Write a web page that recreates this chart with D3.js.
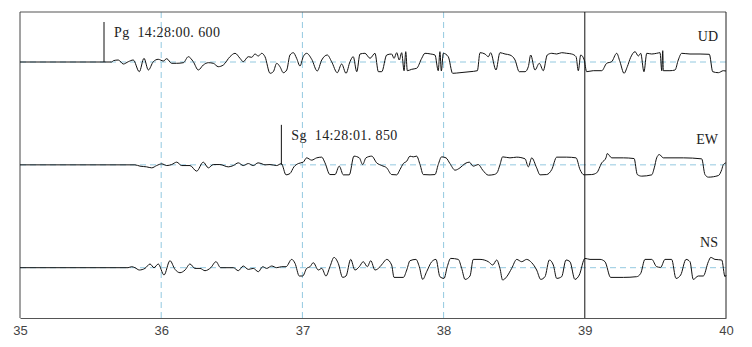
<!DOCTYPE html>
<html>
<head>
<meta charset="utf-8">
<script src="https://cdn.jsdelivr.net/npm/d3@7"></script>
<style>
  body { margin: 0; background: #fff; }
  .tick text { font-family: "Liberation Sans", Arial, sans-serif; font-size: 13px; fill: #444; }
  .lbl { font-family: "Liberation Serif", "DejaVu Serif", serif; font-size: 14px; fill: #222; }
  .pick { white-space: pre; letter-spacing: 0.4px; }
</style>
</head>
<body>
<div id="chart"></div>
<script>
// time axis (s) and channels
const xTicks = [35, 36, 37, 38, 39, 40];
const channels = ['UD', 'EW', 'NS'];
const gridTimes = [36, 37, 38];
const markTime = 39;

// phase picks
const picks = [
    { phase: 'Pg', channel: 'UD', time: 35.595, text: 'Pg  14:28:00. 600' },
    { phase: 'Sg', channel: 'EW', time: 36.851, text: 'Sg  14:28:01. 850' }
];

// traces: [time, amplitude]
const udTrace = [
    [35.000,0],[35.595,0],[35.649,0],[35.661,1.3],[35.696,2],[35.732,-2],[35.767,0.3],[35.802,2],
    [35.845,-9.7],[35.878,3.7],[35.909,-8],[35.944,0.3],[35.979,2.7],[36.015,1],[36.039,3.3],
    [36.074,-1.3],[36.110,-1.3],[36.157,-0.7],[36.192,5.3],[36.227,0.3],[36.263,-8],[36.298,-3],
    [36.334,-0.7],[36.369,-1.3],[36.404,-4.7],[36.440,-3],[36.487,5.3],[36.523,8.7],[36.558,3.7],
    [36.581,0.3],[36.617,5.3],[36.641,4.7],[36.664,8],[36.688,6],[36.712,8.7],[36.735,5.3],
    [36.771,-11.3],[36.794,-9.7],[36.818,-1.3],[36.841,-4.7],[36.865,-10.7],[36.889,-8],[36.912,7],
    [36.936,9.3],[36.959,3.7],[36.983,-4],[37.006,5.3],[37.030,8.7],[37.066,2.7],[37.105,-9],
    [37.137,2],[37.176,7],[37.207,0.3],[37.247,-10.7],[37.278,-2],[37.309,-11.3],[37.337,0.3],
    [37.360,5.3],[37.385,-9.7],[37.408,8],[37.443,8.7],[37.479,3.7],[37.514,8.7],[37.538,-9.7],
    [37.562,-9.7],[37.597,7],[37.632,8],[37.649,3.7],[37.668,9.3],[37.686,2],[37.703,9.3],
    [37.720,-8.7],[37.732,10.3],[37.743,-8.7],[37.774,-7.3],[37.809,-6.3],[37.845,3.7],[37.868,8.7],
    [37.909,8],[37.939,7],[37.962,-8.7],[37.974,10.3],[37.984,-9],[37.998,8.7],[38.033,5.3],
    [38.064,-11.3],[38.116,-10.7],[38.187,-9.7],[38.239,-8.7],[38.258,9.3],[38.293,8],[38.317,5.3],
    [38.333,9.3],[38.371,-8],[38.399,9.3],[38.435,8],[38.470,7],[38.506,2],[38.536,-9.7],
    [38.577,-9.7],[38.600,-4.7],[38.617,7],[38.647,-8],[38.678,-1.3],[38.706,-8.7],[38.734,7],
    [38.766,8.7],[38.801,8],[38.836,9.3],[38.872,8.7],[38.907,8],[38.938,5.3],[38.954,-8.7],
    [38.971,7],[38.996,2],[39.013,-9.7],[39.060,-8.7],[39.120,-8.7],[39.155,-1.3],[39.190,0.3],
    [39.226,8.7],[39.249,0.3],[39.278,-11.3],[39.301,-4.7],[39.325,4.7],[39.356,10.3],[39.379,6],
    [39.396,8.7],[39.419,-9.7],[39.439,8.7],[39.474,8],[39.509,8.7],[39.533,9.3],[39.545,-8.7],
    [39.552,11.3],[39.556,-8.7],[39.603,-8.7],[39.639,-8],[39.662,2],[39.686,8.7],[39.745,8],
    [39.816,8],[39.882,7.7],[39.906,-9.7],[39.946,-10.7],[39.981,-8.7],[40.000,-9]
];

const ewTrace = [
    [35.000,0],[35.814,0],[35.850,-1.3],[35.897,-2],[35.933,-3],[35.968,-0.7],[36.004,1],[36.039,-0.7],
    [36.074,0.3],[36.110,2.7],[36.145,-0.7],[36.204,-0.7],[36.251,-6.3],[36.298,2.7],[36.334,-3],
    [36.369,0.3],[36.416,0.3],[36.475,-2],[36.511,-0.7],[36.546,2],[36.581,-0.7],[36.617,1.3],
    [36.652,-0.7],[36.686,2],[36.714,1],[36.735,0],[36.771,0.3],[36.818,-0.7],[36.851,1.3],
    [36.884,-10],[36.912,-8.7],[36.940,-2],[36.971,1.3],[37.006,2.7],[37.030,7],[37.066,4.7],
    [37.101,7],[37.137,7.7],[37.160,2],[37.195,-9.7],[37.231,-9.7],[37.261,-1.3],[37.290,-10],
    [37.332,-10],[37.365,8.7],[37.403,7],[37.427,0.3],[37.450,7],[37.491,8.7],[37.526,2],
    [37.562,-0.7],[37.597,-3],[37.632,-9.7],[37.668,-10],[37.691,-4.7],[37.715,1.3],[37.739,3.7],
    [37.762,8.7],[37.785,8],[37.809,8.7],[37.833,0.3],[37.856,-9.7],[37.904,-10],[37.939,-9.7],
    [37.962,0.3],[37.986,8],[38.017,7],[38.045,1.3],[38.081,-5.3],[38.116,-3],[38.152,1.3],
    [38.182,2.7],[38.210,-1.3],[38.246,0.3],[38.277,-5.3],[38.317,-10.3],[38.357,-9.7],[38.378,-8],
    [38.399,0],[38.418,8],[38.470,7],[38.518,7.7],[38.577,6],[38.600,-2],[38.624,7],[38.659,-3],
    [38.683,-10],[38.730,-9.7],[38.766,-4.7],[38.801,7.7],[38.872,7.7],[38.938,7],[38.966,-4.7],
    [38.994,-10],[39.049,-9.7],[39.084,-8],[39.120,2],[39.150,7],[39.159,11.3],[39.191,7],
    [39.273,7],[39.349,6.3],[39.372,-9.7],[39.403,-11.3],[39.474,-10],[39.492,-3],[39.509,7],
    [39.528,10.3],[39.556,7],[39.698,7],[39.828,6],[39.851,-9.7],[39.875,-12.3],[39.946,-10.7],
    [39.970,-4.7],[39.981,0.3],[40.000,2]
];

const nsTrace = [
    [35.000,0],[35.765,0],[35.791,1],[35.814,0],[35.845,-2.3],[35.885,-0.7],[35.921,3.7],[35.949,0],
    [35.979,3.7],[36.020,-7.3],[36.062,7],[36.098,-1.7],[36.133,-5],[36.169,-2.3],[36.204,3.7],
    [36.239,-0.7],[36.275,-0.7],[36.310,-3],[36.351,0],[36.388,6],[36.421,0],[36.511,0],[36.546,-3],
    [36.581,1.7],[36.617,-1.7],[36.652,-0.7],[36.688,-4],[36.719,1],[36.747,-0.7],[36.783,1.7],
    [36.818,0],[36.853,1],[36.884,1],[36.924,8.3],[36.948,4.3],[36.978,-8.3],[37.002,-8.3],
    [37.030,-0.7],[37.054,1],[37.077,5],[37.113,-2.3],[37.137,-0.7],[37.167,-8.3],[37.195,1],
    [37.224,10.3],[37.254,4.3],[37.285,-9.7],[37.309,-8.3],[37.342,8.3],[37.372,-2.3],[37.403,1],
    [37.431,6],[37.460,1],[37.484,7],[37.514,-2.3],[37.550,1],[37.569,4.3],[37.597,8.3],[37.632,2.7],
    [37.649,-9.7],[37.715,-9.7],[37.739,-2.3],[37.762,7],[37.804,8.3],[37.828,1],[37.852,-11.7],
    [37.880,-4],[37.916,6],[37.946,8.3],[37.974,-9],[38.003,-10.7],[38.026,1],[38.050,9.3],
    [38.104,8.3],[38.128,-0.7],[38.152,-11.7],[38.187,-8.3],[38.210,8.3],[38.258,8.3],[38.317,6],
    [38.348,2.7],[38.376,7.7],[38.399,-0.7],[38.418,-12.3],[38.447,-9],[38.482,-0.7],[38.518,8.3],
    [38.553,6],[38.588,8.3],[38.624,5],[38.659,-2.3],[38.688,-11.7],[38.718,-9],[38.749,7.7],
    [38.777,2.7],[38.801,-10.7],[38.836,-9],[38.867,7.7],[38.895,6],[38.930,-11.7],[38.961,-7.3],
    [39.001,9.3],[39.037,8.3],[39.108,8.3],[39.143,6],[39.183,-9.7],[39.273,-9.7],[39.367,-9],
    [39.396,-5.7],[39.426,8.3],[39.474,8.3],[39.509,1],[39.537,0.3],[39.568,8.3],[39.615,8.3],
    [39.646,-10.7],[39.679,-7.3],[39.717,8.3],[39.745,6],[39.768,-11.7],[39.804,-8.3],[39.839,-8.3],
    [39.875,6],[39.892,10.3],[39.922,8.3],[39.970,7.7],[39.993,-9],[40.000,-7.3]
];

const traces = { UD: udTrace, EW: ewTrace, NS: nsTrace };

// Set up dimensions
const width = 752, height = 347;
const margin = { top: 12, right: 26, bottom: 29, left: 20 };

const svg = d3.select('#chart').append('svg')
    .attr('width', width)
    .attr('height', height);

const x = d3.scaleLinear()
    .domain([35, 40])
    .range([margin.left, width - margin.right]);

// one baseline per channel
const band = d3.scalePoint()
    .domain(channels)
    .range([62, 267.7]);

// amplitude -> pixel offset
const amp = d3.scaleLinear().domain([-10, 10]).range([10, -10]);

const yTop = margin.top, yBottom = height - margin.bottom;
const dashColor = '#93c9e0';

// dashed grid lines
svg.selectAll('.vgrid').data(gridTimes).join('line')
    .attr('x1', d => x(d)).attr('x2', d => x(d))
    .attr('y1', yTop).attr('y2', yBottom)
    .attr('stroke', dashColor).attr('stroke-width', 1)
    .attr('stroke-dasharray', '6,4');

svg.selectAll('.hgrid').data(channels).join('line')
    .attr('x1', x(35)).attr('x2', x(40))
    .attr('y1', d => band(d)).attr('y2', d => band(d))
    .attr('stroke', dashColor).attr('stroke-width', 1)
    .attr('stroke-dasharray', '6,4');

// frame
svg.append('line').attr('x1', x(35)).attr('x2', x(40)).attr('y1', yTop).attr('y2', yTop)
    .attr('stroke', '#555').attr('stroke-width', 1.2);
svg.append('line').attr('x1', x(35)).attr('x2', x(35)).attr('y1', yTop).attr('y2', yBottom)
    .attr('stroke', '#444').attr('stroke-width', 1);
svg.append('line').attr('x1', x(40)).attr('x2', x(40)).attr('y1', yTop).attr('y2', yBottom)
    .attr('stroke', '#222').attr('stroke-width', 1);
svg.append('line').attr('x1', x(markTime)).attr('x2', x(markTime)).attr('y1', yTop).attr('y2', yBottom)
    .attr('stroke', '#111').attr('stroke-width', 1);

// waveforms
const line = d3.line()
    .x(d => x(d[0]))
    .curve(d3.curveMonotoneX);

channels.forEach(ch => {
    svg.append('path')
        .datum(traces[ch])
        .attr('fill', 'none')
        .attr('stroke', '#111')
        .attr('stroke-width', 1)
        .attr('stroke-linejoin', 'round')
        .attr('d', line.y(d => band(ch) + amp(d[1])));

    svg.append('text')
        .attr('class', 'lbl')
        .attr('x', 718)
        .attr('y', band(ch) - 21)
        .attr('text-anchor', 'end')
        .text(ch);
});

// phase picks
picks.forEach(p => {
    const px = x(p.time), by = band(p.channel);
    svg.append('line')
        .attr('x1', px).attr('x2', px)
        .attr('y1', by - 40).attr('y2', by)
        .attr('stroke', '#111').attr('stroke-width', 1);
    svg.append('text')
        .attr('class', 'lbl pick')
        .attr('x', px + 10)
        .attr('y', by - 25)
        .text(p.text);
});

// x axis
const xAxis = svg.append('g')
    .attr('transform', `translate(0,${yBottom})`)
    .call(d3.axisBottom(x).tickValues(xTicks).tickFormat(d3.format('d')).tickSize(0).tickPadding(8));
xAxis.select('.domain').attr('stroke', '#555').attr('stroke-width', 1.2);
</script>
</body>
</html>
